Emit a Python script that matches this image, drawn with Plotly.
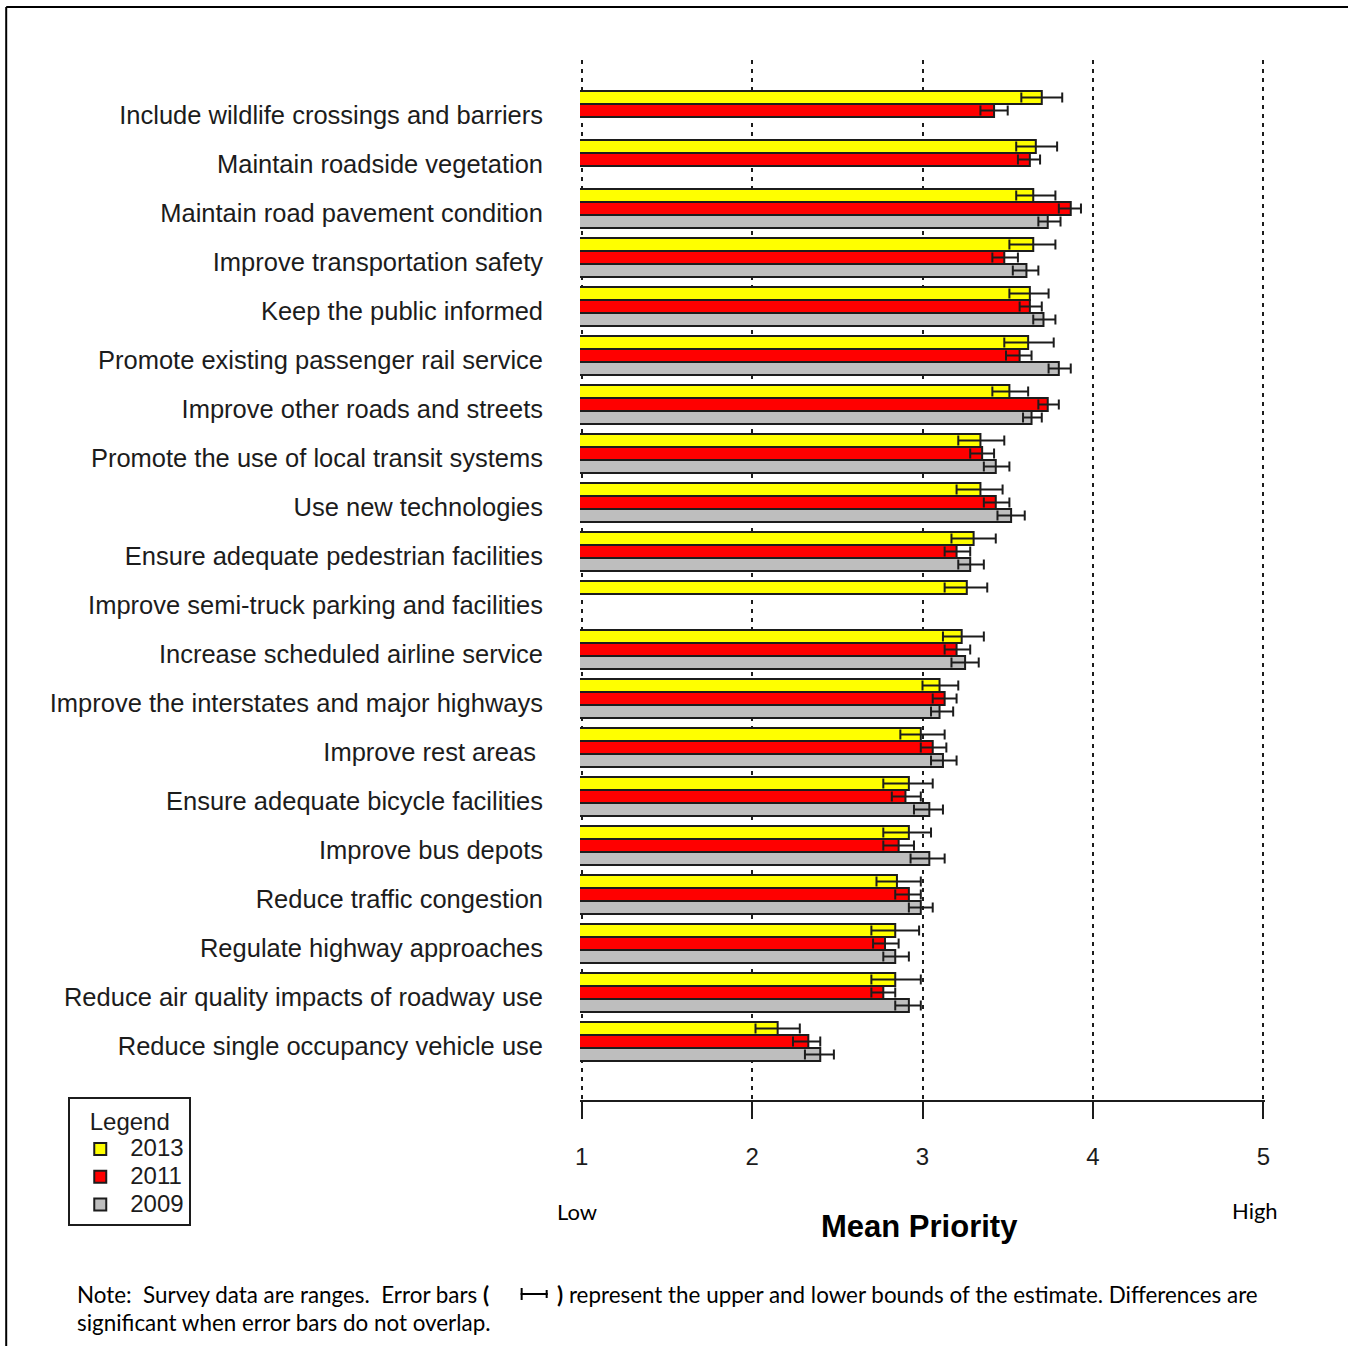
import plotly.graph_objects as go

# Survey items, listed top to bottom
categories = [
    "Include wildlife crossings and barriers",
    "Maintain roadside vegetation",
    "Maintain road pavement condition",
    "Improve transportation safety",
    "Keep the public informed",
    "Promote existing passenger rail service",
    "Improve other roads and streets",
    "Promote the use of local transit systems",
    "Use new technologies",
    "Ensure adequate pedestrian facilities",
    "Improve semi-truck parking and facilities",
    "Increase scheduled airline service",
    "Improve the interstates and major highways",
    "Improve rest areas\u00a0",
    "Ensure adequate bicycle facilities",
    "Improve bus depots",
    "Reduce traffic congestion",
    "Regulate highway approaches",
    "Reduce air quality impacts of roadway use",
    "Reduce single occupancy vehicle use",
]

# Mean priority and lower / upper bounds per survey year (None = item not asked)
mean_2013 = [3.70, 3.665, 3.65, 3.65, 3.63, 3.62, 3.51, 3.34, 3.34, 3.30,
             3.26, 3.23, 3.10, 2.99, 2.92, 2.92, 2.85, 2.84, 2.84, 2.15]
low_2013 = [3.58, 3.55, 3.55, 3.51, 3.51, 3.48, 3.41, 3.21, 3.20, 3.17,
            3.13, 3.12, 3.00, 2.87, 2.77, 2.77, 2.73, 2.70, 2.70, 2.02]
high_2013 = [3.82, 3.79, 3.78, 3.78, 3.74, 3.77, 3.62, 3.48, 3.47, 3.43,
             3.38, 3.36, 3.21, 3.13, 3.06, 3.05, 2.99, 2.98, 2.99, 2.28]

mean_2011 = [3.42, 3.63, 3.87, 3.48, 3.63, 3.57, 3.735, 3.35, 3.43, 3.20,
             None, 3.20, 3.13, 3.06, 2.90, 2.86, 2.92, 2.78, 2.77, 2.33]
low_2011 = [3.34, 3.56, 3.80, 3.41, 3.57, 3.49, 3.68, 3.28, 3.36, 3.13,
            None, 3.13, 3.06, 2.99, 2.82, 2.77, 2.84, 2.71, 2.70, 2.24]
high_2011 = [3.50, 3.69, 3.93, 3.56, 3.70, 3.64, 3.80, 3.42, 3.51, 3.28,
             None, 3.28, 3.20, 3.14, 2.99, 2.95, 2.99, 2.86, 2.84, 2.40]

mean_2009 = [None, None, 3.735, 3.61, 3.71, 3.80, 3.64, 3.43, 3.52, 3.28,
             None, 3.25, 3.10, 3.12, 3.04, 3.04, 2.99, 2.84, 2.92, 2.40]
low_2009 = [None, None, 3.68, 3.53, 3.65, 3.74, 3.59, 3.36, 3.44, 3.21,
            None, 3.17, 3.05, 3.05, 2.95, 2.93, 2.92, 2.77, 2.84, 2.31]
high_2009 = [None, None, 3.81, 3.68, 3.78, 3.87, 3.70, 3.51, 3.60, 3.36,
             None, 3.33, 3.18, 3.20, 3.12, 3.13, 3.06, 2.92, 2.99, 2.48]

years = ["2013", "2011", "2009"]
colors = {"2013": "#FFFF00", "2011": "#FF0000", "2009": "#BEBEBE"}
series = {
    "2013": (mean_2013, low_2013, high_2013),
    "2011": (mean_2011, low_2011, high_2011),
    "2009": (mean_2009, low_2009, high_2009),
}

x_ticks = [1, 2, 3, 4, 5]

# Page geometry (pixels); the x range is padded a hair so gridlines at 1 and 5 survive
W, H = 1348, 1346
X1_PX, X5_PX = 582, 1263
PAD = 0.01
unit = (X5_PX - X1_PX) / 4
L = X1_PX - PAD * unit
R = X5_PX + PAD * unit
T, B = 60, 1100


def px(xp):
    return (xp - L) / (R - L)


def py(yp):
    return (B - yp) / (B - T)


INK = "#1c1c1c"
BAR_H = 0.265          # bar thickness in category units
GROUP_TOP = -0.49      # top edge of each three-bar group relative to its label

fig = go.Figure()
for k, yr in enumerate(years):
    m, lo, hi = series[yr]
    plus = [None if v is None else h - v for v, h in zip(m, hi)]
    minus = [None if v is None else v - l for v, l in zip(m, lo)]
    fig.add_trace(go.Bar(
        name=f"<span style='font-size:24px'>{yr}</span>",
        y=categories,
        x=m,
        orientation="h",
        width=BAR_H,
        offset=GROUP_TOP + k * BAR_H,
        marker=dict(color=colors[yr], line=dict(color=INK, width=2)),
        error_x=dict(type="data", symmetric=False, array=plus, arrayminus=minus,
                     color=INK, thickness=2, width=5),
    ))

fig.update_layout(
    width=W, height=H, autosize=False,
    margin=dict(l=L, r=W - R, t=T, b=H - B, pad=0),
    paper_bgcolor="white", plot_bgcolor="white",
    barmode="overlay",
    font=dict(family="Liberation Sans, Arial, sans-serif", color=INK),
    showlegend=True,
    legend=dict(
        x=px(69), y=py(1097), xanchor="left", yanchor="top",
        xref="paper", yref="paper",
        bordercolor=INK, borderwidth=2, bgcolor="white",
        font=dict(size=19, family="Liberation Sans, Arial, sans-serif", color=INK),
        title=dict(text="Legend", side="top center",
                   font=dict(size=24, family="Liberation Sans, Arial, sans-serif", color=INK)),
        traceorder="normal", itemclick=False, itemdoubleclick=False,
        itemwidth=50, tracegroupgap=0,
    ),
)

fig.update_xaxes(
    range=[1 - PAD, 5 + PAD], tickvals=x_ticks, ticktext=[str(t) for t in x_ticks],
    showgrid=True, gridcolor=INK, gridwidth=2, griddash="4px,5px",
    zeroline=False, showline=True, linecolor=INK, linewidth=2,
    ticks="outside", ticklen=17, tickwidth=2, tickcolor=INK,
    ticklabelstandoff=17,
    tickfont=dict(size=24, family="Liberation Sans, Arial, sans-serif", color=INK),
    automargin=False, fixedrange=True,
)
fig.update_yaxes(
    type="category", range=[20.102, -1.122],
    showgrid=False, zeroline=False, showline=False, ticks="",
    ticklabelstandoff=36,
    tickfont=dict(size=25.5, family="Liberation Sans, Arial, sans-serif", color=INK),
    automargin=False, fixedrange=True,
)

note_font = dict(family="Lato, Open Sans, sans-serif", size=22.4, color="black")
side_font = dict(family="Lato, Open Sans, sans-serif", size=22, color="black")
annotations = [
    dict(text="Low", x=px(577), y=py(1211), font=side_font),
    dict(text="High", x=px(1255), y=py(1210), font=side_font),
    dict(text="<b>Mean Priority</b>", x=px(920), y=py(1226),
         font=dict(family="Liberation Sans, Arial, sans-serif", size=31, color="black")),
    dict(text="Note:  Survey data are ranges.  Error bars <b>(</b>", x=px(76), y=py(1294),
         xanchor="left", font=note_font),
    dict(text="<b>)</b> represent the upper and lower bounds of the estimate. Differences are",
         x=px(555), y=py(1294), xanchor="left", font=note_font),
    dict(text="significant when error bars do not overlap.", x=px(76), y=py(1322),
         xanchor="left", font=note_font),
]
for a in annotations:
    a.setdefault("xanchor", "center")
    fig.add_annotation(xref="paper", yref="paper", yanchor="middle", showarrow=False, **a)

# Small error-bar glyph inside the note, plus the outer frame
line_style = dict(color="black", width=2)
shapes = [
    dict(type="line", x0=px(521), x1=px(548), y0=py(1294), y1=py(1294), line=line_style),
    dict(type="line", x0=px(522), x1=px(522), y0=py(1288), y1=py(1300), line=line_style),
    dict(type="line", x0=px(547), x1=px(547), y0=py(1290), y1=py(1298), line=line_style),
    dict(type="line", x0=px(7), x1=px(W), y0=py(7), y1=py(7), line=line_style),
    dict(type="line", x0=px(7), x1=px(7), y0=py(7), y1=py(H), line=line_style),
]
for s in shapes:
    fig.add_shape(xref="paper", yref="paper", **s)

fig.write_html("out.html")
